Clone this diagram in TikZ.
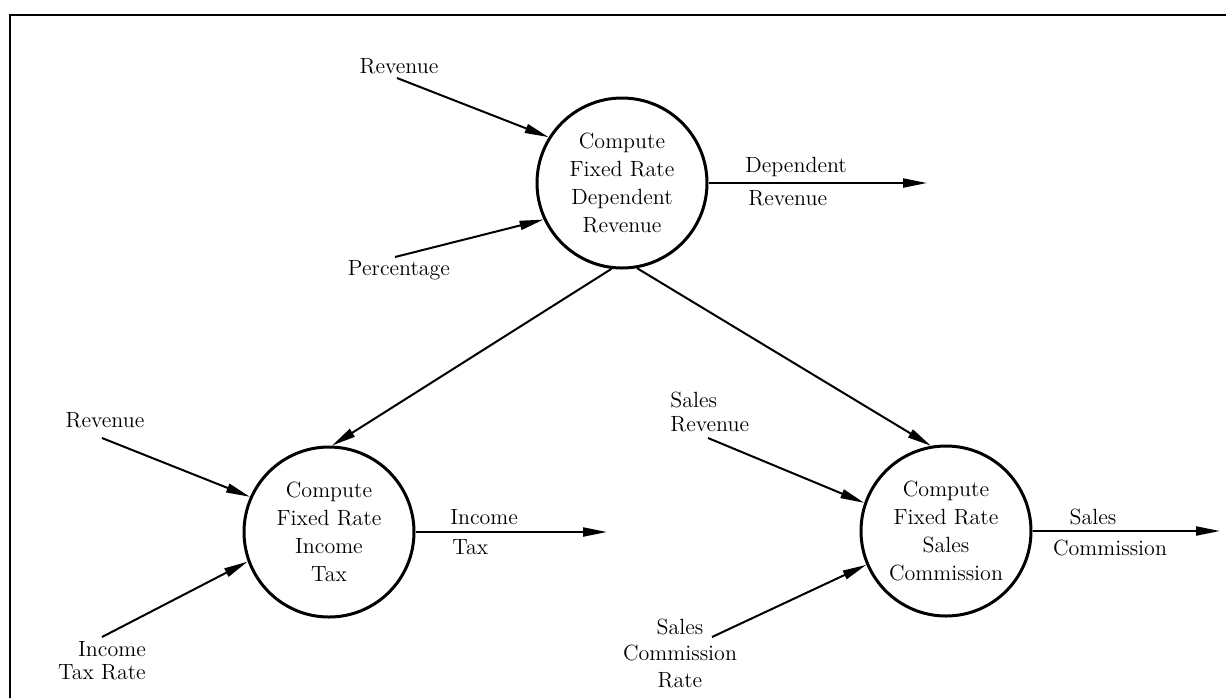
\documentclass[tikz,border=0pt]{standalone}
\usetikzlibrary{arrows.meta}
\begin{document}
\begin{tikzpicture}[x=0.5pt,y=-0.5pt,
  process/.style={circle, draw, line width=1.5pt, minimum size=85pt, inner sep=0pt,
    align=center, font=\fontsize{11}{14}\selectfont},
  lbl/.style={inner sep=0pt, font=\fontsize{11}{12}\selectfont},
  flow/.style={line width=1pt, -{Triangle[length=12pt,width=4.5pt]}},
  frameline/.style={line width=1pt}
]
\useasboundingbox (0,0) rectangle (1226,698);

% open frame: top and left edges
\draw[frameline] (10,698) -- (10,15) -- (1226,15);

% processes
\node[process] (top) at (622,183) {Compute\\Fixed Rate\\Dependent\\Revenue};
\node[process] (left) at (329,532) {Compute\\Fixed Rate\\Income\\Tax};
\node[process] (right) at (946,531) {Compute\\Fixed Rate\\Sales\\Commission};

% input labels
\node[lbl] (rev1) at (399,66) {Revenue};
\node[lbl] (pct) at (399,270) {Percentage};
\node[lbl] (rev2) at (105,420) {Revenue};
\node[lbl, align=right, font=\fontsize{11}{11.5}\selectfont] (itr) at (102,661) {Income\\Tax Rate};
\node[lbl, align=left, anchor=west] (sr) at (670,412) {Sales\\Revenue};
\node[lbl, align=center, font=\fontsize{11}{13.25}\selectfont] (scr) at (680,653) {Sales\\Commission\\Rate};

% free ends of the connectors
\coordinate (rev1s) at (397,78);
\coordinate (pcts) at (395,257);
\coordinate (rev2s) at (102,438);
\coordinate (itrs) at (102,637);
\coordinate (srs) at (708,438);
\coordinate (scrs) at (712,637);
\coordinate (depo) at (927,183);
\coordinate (itxo) at (607,532);
\coordinate (sco) at (1220,531);

% output labels
\node[lbl, anchor=west] (dep1) at (745,167) {Dependent};
\node[lbl, anchor=west] (dep2) at (748,198) {Revenue};
\node[lbl, anchor=west] (itx1) at (450,517) {Income};
\node[lbl, anchor=west] (itx2) at (452,547) {Tax};
\node[lbl] (sc1) at (1093,517) {Sales};
\node[lbl] (sc2) at (1110,548) {Commission};

% flows
\draw[flow] (rev1s) -- (top.148.7);
\draw[flow] (pcts) -- (top.205);
\draw[flow] (top.east) -- (depo);
\draw[flow] (top.263) -- (left.88);
\draw[flow] (top.280) -- (right.100.5);
\draw[flow] (rev2s) -- (left.156.7);
\draw[flow] (itrs) -- (left.200.8);
\draw[flow] (left.east) -- (itxo);
\draw[flow] (srs) -- (right.161.4);
\draw[flow] (scrs) -- (right.203.5);
\draw[flow] (right.east) -- (sco);
\end{tikzpicture}
\end{document}
